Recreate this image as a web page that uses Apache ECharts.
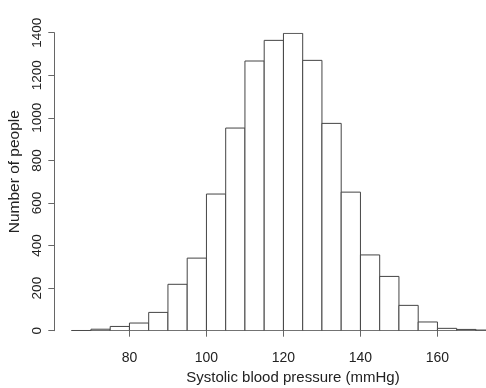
<!DOCTYPE html>
<html>
<head>
<meta charset="utf-8">
<script src="https://cdn.jsdelivr.net/npm/echarts@6/dist/echarts.min.js"></script>
<style>
  html, body { margin: 0; padding: 0; background: #fff; }
  #chart { width: 486px; height: 388px; }
</style>
</head>
<body>
<div id="chart"></div>
<script>
// histogram bins (left edge, right edge) and counts
const binLo = [65, 70, 75, 80, 85, 90, 95, 100, 105, 110, 115, 120, 125, 130, 135, 140, 145, 150, 155, 160, 165, 170];
const binHi = [70, 75, 80, 85, 90, 95, 100, 105, 110, 115, 120, 125, 130, 135, 140, 145, 150, 155, 160, 165, 170, 175];
const counts = [1, 7, 20, 36, 86, 218, 341, 642, 952, 1267, 1364, 1397, 1270, 974, 651, 356, 255, 119, 41, 11, 6, 3];
const xTicks = [80, 100, 120, 140, 160];

const chart = echarts.init(document.getElementById("chart"));

const data = binLo.map((lo, i) => [lo, binHi[i], counts[i]]);

const font = "Liberation Sans, Arial, sans-serif";

const option = {
  animation: false,
  grid: {
    left: 71.7,
    right: -9.2,
    top: 32.7,
    bottom: 57.3,
    outerBoundsMode: "none"
  },
  xAxis: {
    type: "value",
    min: 65,
    max: 175,
    offset: 11.6,
    name: "Systolic blood pressure (mmHg)",
    nameLocation: "middle",
    nameGap: 28,
    nameTextStyle: { color: "#222", fontSize: 15, fontFamily: font, padding: [0, 0, 0, 19] },
    axisLine: { lineStyle: { color: "#666", width: 1 } },
    axisTick: { customValues: xTicks, length: 6, lineStyle: { color: "#666" } },
    axisLabel: { customValues: xTicks, color: "#222", fontSize: 14, fontFamily: font, margin: 9 },
    splitLine: { show: false }
  },
  yAxis: {
    type: "value",
    min: 0,
    max: 1400,
    interval: 200,
    offset: 17.4,
    name: "Number of people",
    nameLocation: "middle",
    nameGap: 23,
    nameTextStyle: { color: "#222", fontSize: 15.5, fontFamily: font, padding: [0, 0, 0, 20] },
    axisLine: { show: true, lineStyle: { color: "#666", width: 1 } },
    axisTick: { show: true, length: 6, lineStyle: { color: "#666" } },
    axisLabel: { rotate: 90, color: "#222", fontSize: 13.5, fontFamily: font, margin: 10, formatter: v => String(v) },
    splitLine: { show: false }
  },
  series: [
    {
      type: "custom",
      clip: true,
      data: data,
      renderItem: (params, api) => {
        const p0 = api.coord([api.value(0), api.value(2)]);
        const p1 = api.coord([api.value(1), 0]);
        return {
          type: "rect",
          shape: { x: p0[0], y: p0[1], width: p1[0] - p0[0], height: p1[1] - p0[1] },
          style: { fill: "#fff", stroke: "#444", lineWidth: 1 }
        };
      }
    }
  ]
};

chart.setOption(option);
</script>
</body>
</html>
